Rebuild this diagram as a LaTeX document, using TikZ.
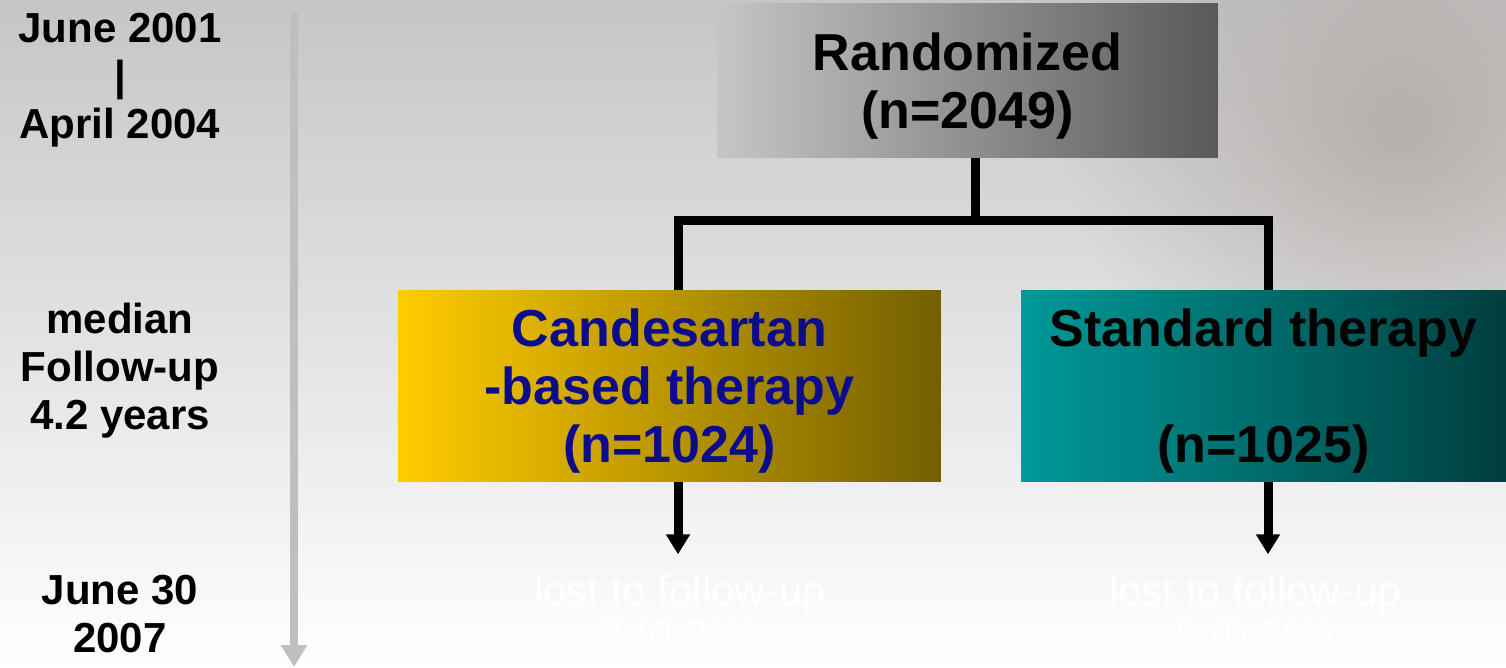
\documentclass[tikz,border=0pt]{standalone}
\usepackage{fontspec}
\setmainfont{Liberation Sans}
\usetikzlibrary{arrows.meta, fadings}
\definecolor{gold}{RGB}{255,204,0}
\definecolor{olive}{RGB}{115,95,0}
\definecolor{teal}{RGB}{0,153,153}
\definecolor{darkteal}{RGB}{0,62,62}
\definecolor{navy}{RGB}{12,12,140}
\definecolor{photo}{RGB}{170,162,158}
\tikzfading[name=soft blob, inner color=transparent!30, outer color=transparent!100]

\begin{document}
\begin{tikzpicture}[x=0.02cm, y=-0.02cm, >=latex,
    big/.style={font=\fontsize{29.6}{33}\selectfont\bfseries, align=center, inner sep=0pt},
    side/.style={font=\fontsize{23.9}{27.3}\selectfont\bfseries, align=center},
    lost/.style={font=\fontsize{23.9}{25}\selectfont, align=center, text=white},
    link/.style={line width=0.18cm},
    down/.style={link, -{Triangle[width=0.46cm, length=0.4cm]}, shorten >=0.3cm}]
% background
\useasboundingbox (0,0) rectangle (1506,667);
\shade[top color=gray!45, middle color=gray!12, bottom color=white] (0,0) rectangle (1506,667);
\begin{scope}
  \clip (0,0) rectangle (1506,667);
  \fill[photo, path fading=soft blob] (1400,130) ellipse (340 and 300);
\end{scope}

% timeline
\node[side] (start) at (120,80) {June 2001\\|\\April 2004};
\node[side] (median) at (120,371) {median\\Follow-up\\4.2 years};
\node[side] (close) at (120,614) {June 30\\2007};
\coordinate (tTop) at (294,12);
\coordinate (tEnd) at (294,667);
\draw[line width=0.16cm, gray!50, -{Triangle[width=0.5cm, length=0.44cm]}] (tTop) -- (tEnd);

% boxes
\node[big, text depth=-0.14cm, minimum width=10.02cm, minimum height=3.1cm, left color=gray!45, right color=black!65] (rand) at (967.5,80.5) {Randomized\\(n=2049)};
\node[big, text depth=0pt, text=navy, minimum width=10.86cm, minimum height=3.84cm, left color=gold, right color=olive] (cand) at (669.5,386) {Candesartan\\-based therapy\\(n=1024)};
\node[big, text depth=0pt, minimum width=9.7cm, minimum height=3.84cm, left color=teal, right color=darkteal] (std) at (1263.5,386) {Standard therapy\\~\\(n=1025)};
\node[lost] (lostC) at (680,617) {lost to follow-up\\3 (0.3\%)};
\node[lost] (lostS) at (1255,617) {lost to follow-up\\5 (0.5\%)};

% links
\coordinate (split) at (975,220);
\draw[link] (rand.south -| split) -- (split);
\draw[link] ([xshift=0.17cm]cand.north) |- (split) -| ([xshift=0.09cm]std.north);
\draw[down] ([xshift=0.17cm]cand.south) -- ([xshift=0.17cm]cand.south |- lostC.north);
\draw[down] ([xshift=0.09cm]std.south) -- ([xshift=0.09cm]std.south |- lostS.north);
\end{tikzpicture}
\end{document}
